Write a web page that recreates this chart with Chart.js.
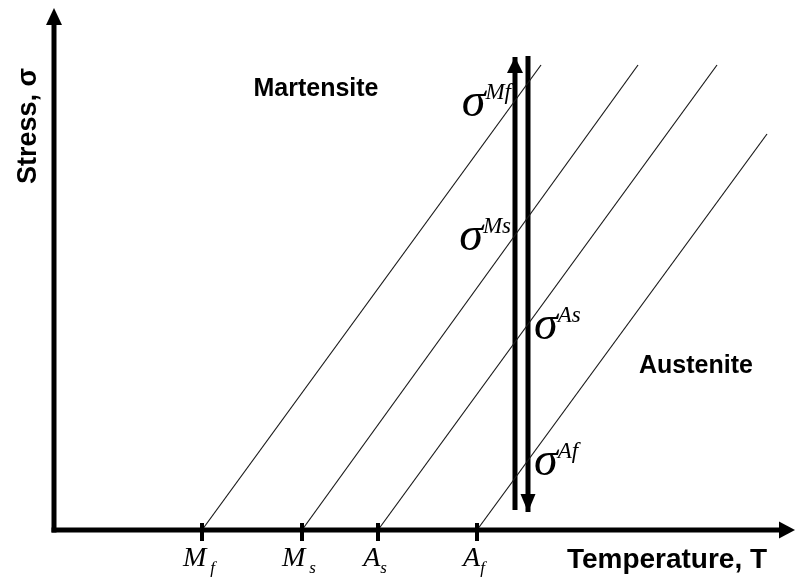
<!DOCTYPE html>
<html><head><meta charset="utf-8">
<script src="https://cdn.jsdelivr.net/npm/chart.js"></script>
<style>html,body{margin:0;padding:0;background:#fff}</style>
</head><body>
<canvas id="c" width="795" height="579"></canvas>
<script>
// Transformation lines (temperature T, stress sigma) – schematic units
const transformationNames = ['Mf', 'Ms', 'As', 'Af'];
const lineStartT = [148, 248, 324, 423];
const lineStartS = [0, 0, 0, 0];
const lineEndT = [487, 584, 663, 713];
const lineEndS = [465, 465, 465, 396];
// Temperature axis tick labels
const tickT = [148, 248, 324, 423];
const tickLetters = ['M', 'M', 'A', 'A'];
const tickSubs = ['f', 's', 's', 'f'];
// Loading (up) and unloading (down) paths
const loadT = [461, 461];
const loadS = [20, 473];
const unloadT = [474, 474];
const unloadS = [474, 18];
// axis extents
const tMax = 741;
const sMax = 522;

const lineSets = transformationNames.map((n, i) => ({
  label: n,
  data: [{x: lineStartT[i], y: lineStartS[i]}, {x: lineEndT[i], y: lineEndS[i]}],
  showLine: true, borderColor: '#1a1a1a', borderWidth: 1.2, pointRadius: 0, clip: false
}));
const pathSets = [
  {label: 'load', data: loadT.map((t, i) => ({x: t, y: loadS[i]}))},
  {label: 'unload', data: unloadT.map((t, i) => ({x: t, y: unloadS[i]}))}
].map(d => Object.assign(d, {showLine: true, borderColor: '#000', borderWidth: 5, pointRadius: 0, clip: false, borderCapStyle: 'butt'}));

function arrowHead(ctx, x, y, dir, len, half) {
  ctx.beginPath();
  if (dir === 'up') { ctx.moveTo(x, y); ctx.lineTo(x - half, y + len); ctx.lineTo(x + half, y + len); }
  else if (dir === 'down') { ctx.moveTo(x, y); ctx.lineTo(x - half, y - len); ctx.lineTo(x + half, y - len); }
  else { ctx.moveTo(x, y); ctx.lineTo(x - len, y - half); ctx.lineTo(x - len, y + half); }
  ctx.closePath(); ctx.fill();
}

const SIG_FONT = 'italic 48px "Liberation Serif"';
const SUP_FONT = 'italic 23px "Liberation Serif"';
const TICK_FONT = 'italic 28px "Liberation Serif"';
const SUB_FONT = 'italic 17px "Liberation Serif"';

const decor = {
  id: 'decor',
  afterDatasetsDraw(chart) {
    const ctx = chart.ctx, xs = chart.scales.x, ys = chart.scales.y;
    const x0 = xs.getPixelForValue(0), y0 = ys.getPixelForValue(0);
    const xTop = ys.getPixelForValue(sMax), xRight = xs.getPixelForValue(tMax);
    ctx.save();
    ctx.fillStyle = '#000'; ctx.strokeStyle = '#000';
    // axes
    ctx.lineWidth = 5; ctx.lineCap = 'butt';
    ctx.beginPath(); ctx.moveTo(x0, y0 + 2.5); ctx.lineTo(x0, xTop + 15); ctx.stroke();
    arrowHead(ctx, x0, xTop, 'up', 17, 8);
    ctx.beginPath(); ctx.moveTo(x0 - 2.5, y0); ctx.lineTo(xRight - 15, y0); ctx.stroke();
    arrowHead(ctx, xRight, y0, 'right', 16, 8.5);
    // path arrowheads
    arrowHead(ctx, xs.getPixelForValue(loadT[1]), ys.getPixelForValue(loadS[1]), 'up', 16, 8);
    arrowHead(ctx, xs.getPixelForValue(unloadT[1]), ys.getPixelForValue(unloadS[1]), 'down', 18, 7.5);
    // ticks and tick labels
    ctx.lineWidth = 4;
    tickT.forEach((t, i) => {
      const px = xs.getPixelForValue(t);
      ctx.beginPath(); ctx.moveTo(px, y0 - 7); ctx.lineTo(px, y0 + 11); ctx.stroke();
      ctx.font = TICK_FONT;
      const w1 = ctx.measureText(tickLetters[i]).width;
      ctx.font = SUB_FONT;
      const w2 = ctx.measureText(tickSubs[i]).width;
      const gap = tickLetters[i] === 'M' ? 4 : 0;
      const left = px - 3 - (w1 + gap + w2) / 2;
      ctx.textAlign = 'left'; ctx.textBaseline = 'alphabetic';
      ctx.font = TICK_FONT;
      ctx.fillText(tickLetters[i], left, 566);
      ctx.font = SUB_FONT;
      ctx.fillText(tickSubs[i], left + w1 + gap, 573);
    });
    // sigma labels at crossings of transformation lines with the load paths
    transformationNames.forEach((n, i) => {
      const onLoad = n[0] === 'M';
      const pt = onLoad ? loadT[0] : unloadT[0];
      const s = lineStartS[i] + (pt - lineStartT[i]) * (lineEndS[i] - lineStartS[i]) / (lineEndT[i] - lineStartT[i]);
      const px = xs.getPixelForValue(pt), py = ys.getPixelForValue(s);
      ctx.textBaseline = 'alphabetic';
      ctx.font = SIG_FONT;
      const ws = ctx.measureText('σ').width;
      ctx.font = SUP_FONT;
      const wu = ctx.measureText(n).width;
      const left = onLoad ? px - 4 - wu - ws : px + 6;
      ctx.textAlign = 'left';
      ctx.font = SIG_FONT;
      ctx.fillText('σ', left, py + 15);
      ctx.font = SUP_FONT;
      ctx.fillText(n, left + ws, py - 2);
    });
    // region labels
    ctx.font = 'bold 25px "Liberation Sans"';
    ctx.textAlign = 'center';
    ctx.fillText('Martensite', xs.getPixelForValue(262), ys.getPixelForValue(434));
    ctx.fillText('Austenite', xs.getPixelForValue(642), ys.getPixelForValue(157));
    // axis titles
    ctx.font = 'bold 28px "Liberation Sans"';
    ctx.fillText('Temperature, T', 667, 568);
    ctx.translate(36, 126); ctx.rotate(-Math.PI / 2);
    ctx.font = 'bold 27px "Liberation Sans"';
    ctx.fillText('Stress, σ', 0, 0);
    ctx.restore();
  }
};

new Chart(document.getElementById('c'), {
  type: 'scatter',
  data: {datasets: lineSets.concat(pathSets)},
  options: {
    responsive: false, animation: false, devicePixelRatio: 1,
    layout: {padding: {left: 54, right: 0, top: 8, bottom: 49}},
    scales: {
      x: {type: 'linear', min: 0, max: tMax, display: false},
      y: {type: 'linear', min: 0, max: sMax, display: false}
    },
    plugins: {legend: {display: false}, tooltip: {enabled: false}}
  },
  plugins: [decor]
});
</script>
</body></html>
